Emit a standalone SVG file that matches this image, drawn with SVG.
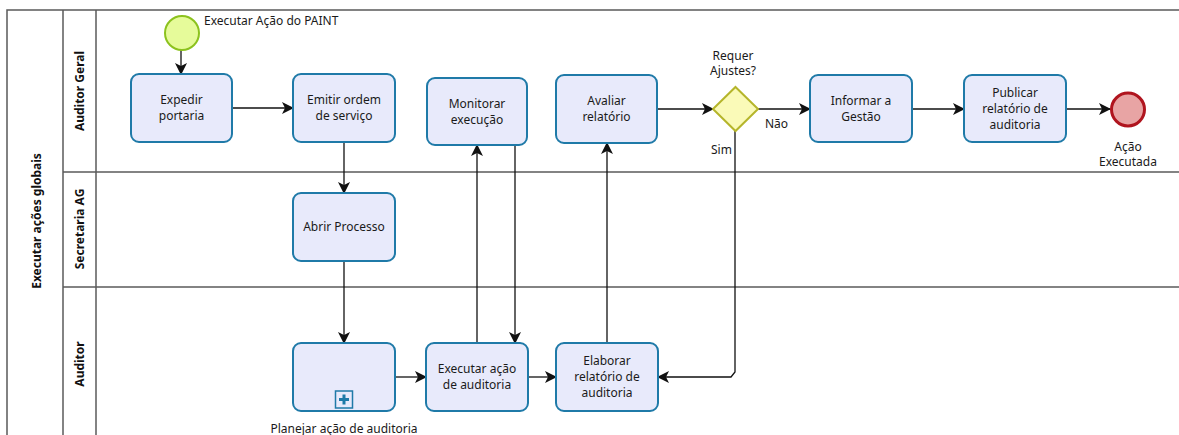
<svg xmlns="http://www.w3.org/2000/svg" width="1179" height="435" viewBox="0 0 1179 435">
<style>
.lane{fill:none;stroke:#5a5a5a;stroke-width:1.5}
.task{fill:#e8eafb;stroke:#1f7aa8;stroke-width:2}
.t{font-family:"Noto Sans","Open Sans",sans-serif;font-size:12px;fill:#1a1a1a;text-anchor:middle}
.l{font-family:"Noto Sans","Open Sans",sans-serif;font-size:12px;fill:#1a1a1a}
.lb{font-family:"Noto Sans","Open Sans",sans-serif;font-size:12px;font-weight:bold;fill:#111;text-anchor:middle}
.c{fill:none;stroke:#111;stroke-width:1.3}
</style>
<defs>
<marker id="a" viewBox="0 0 12 12" refX="11" refY="6" markerWidth="12" markerHeight="12" markerUnits="userSpaceOnUse" orient="auto">
<path d="M0,0 L12,6 L0,12 L3,6 Z" fill="#111"/>
</marker>
</defs>
<g id="pool">
<rect x="7" y="10" width="1190" height="440" class="lane"/>
<line x1="63" y1="10" x2="63" y2="435" class="lane"/>
<line x1="96" y1="10" x2="96" y2="435" class="lane"/>
<line x1="63" y1="172" x2="1179" y2="172" class="lane"/>
<line x1="63" y1="287" x2="1179" y2="287" class="lane"/>
<text class="lb" transform="translate(41,221) rotate(-90)">Executar ações globais</text>
<text class="lb" transform="translate(84,91) rotate(-90)">Auditor Geral</text>
<text class="lb" transform="translate(84,229) rotate(-90)">Secretaria AG</text>
<text class="lb" transform="translate(84,364) rotate(-90)">Auditor</text>
</g>
<g id="connectors">
<line x1="181" y1="50" x2="181" y2="74" class="c" marker-end="url(#a)"/>
<line x1="232" y1="108" x2="293" y2="108" class="c" marker-end="url(#a)"/>
<line x1="344" y1="142" x2="344" y2="193" class="c" marker-end="url(#a)"/>
<line x1="344" y1="261" x2="344" y2="343" class="c" marker-end="url(#a)"/>
<line x1="395" y1="377" x2="426" y2="377" class="c" marker-end="url(#a)"/>
<line x1="477" y1="343" x2="477" y2="145" class="c" marker-end="url(#a)"/>
<line x1="515" y1="145" x2="515" y2="343" class="c" marker-end="url(#a)"/>
<line x1="528" y1="377" x2="556" y2="377" class="c" marker-end="url(#a)"/>
<line x1="607" y1="343" x2="607" y2="143" class="c" marker-end="url(#a)"/>
<line x1="657" y1="109" x2="713" y2="109" class="c" marker-end="url(#a)"/>
<line x1="758" y1="109" x2="810" y2="109" class="c" marker-end="url(#a)"/>
<line x1="912" y1="109" x2="964" y2="109" class="c" marker-end="url(#a)"/>
<line x1="1066" y1="109" x2="1110" y2="109" class="c" marker-end="url(#a)"/>
<polyline points="735,131 735,372 731,377 658,377" class="c" marker-end="url(#a)"/>
<text class="l" x="765" y="128">Não</text>
<text class="l" x="711" y="154">Sim</text>
</g>
<g id="start">
<circle cx="182" cy="33" r="17" fill="#e6fb9a" stroke="#8cc21e" stroke-width="2"/>
<text class="l" x="204" y="25">Executar Ação do PAINT</text>
</g>
<g id="expedir">
<rect x="131" y="74" width="101" height="68" rx="8" class="task"/>
<text class="t" x="181.5" y="104">Expedir</text>
<text class="t" x="181.5" y="120">portaria</text>
</g>
<g id="emitir">
<rect x="293" y="74" width="102" height="68" rx="8" class="task"/>
<text class="t" x="344" y="104">Emitir ordem</text>
<text class="t" x="344" y="120">de serviço</text>
</g>
<g id="monitorar">
<rect x="427" y="78" width="100" height="67" rx="8" class="task"/>
<text class="t" x="477" y="108">Monitorar</text>
<text class="t" x="477" y="124">execução</text>
</g>
<g id="avaliar">
<rect x="556" y="75" width="101" height="68" rx="8" class="task"/>
<text class="t" x="606.5" y="105">Avaliar</text>
<text class="t" x="606.5" y="121">relatório</text>
</g>
<g id="gateway">
<polygon points="735.5,87 758,109 735.5,131 713,109" fill="#fafab8" stroke="#b5b52a" stroke-width="2"/>
<text class="t" x="733" y="60">Requer</text>
<text class="t" x="733" y="75">Ajustes?</text>
</g>
<g id="informar">
<rect x="810" y="75" width="102" height="67" rx="8" class="task"/>
<text class="t" x="861" y="105">Informar a</text>
<text class="t" x="861" y="121">Gestão</text>
</g>
<g id="publicar">
<rect x="964" y="75" width="102" height="67" rx="8" class="task"/>
<text class="t" x="1015" y="97">Publicar</text>
<text class="t" x="1015" y="113">relatório de</text>
<text class="t" x="1015" y="129">auditoria</text>
</g>
<g id="end">
<circle cx="1128" cy="109.5" r="16.5" fill="#e8a4a4" stroke="#b0141e" stroke-width="3"/>
<text class="t" x="1128" y="151">Ação</text>
<text class="t" x="1128" y="166">Executada</text>
</g>
<g id="abrir">
<rect x="293" y="193" width="102" height="68" rx="8" class="task"/>
<text class="t" x="344" y="231">Abrir Processo</text>
</g>
<g id="planejar">
<rect x="293" y="343" width="102" height="68" rx="8" class="task"/>
<rect x="335.5" y="391" width="17" height="17" fill="#e8eafb" stroke="#1f7aa8" stroke-width="1.5"/>
<path d="M344,394.5 V404.5 M339,399.5 H349" stroke="#1f7aa8" stroke-width="3"/>
<text class="t" x="344" y="433">Planejar ação de auditoria</text>
</g>
<g id="executar">
<rect x="426" y="343" width="102" height="68" rx="8" class="task"/>
<text class="t" x="477" y="373">Executar ação</text>
<text class="t" x="477" y="389">de auditoria</text>
</g>
<g id="elaborar">
<rect x="556" y="343" width="102" height="68" rx="8" class="task"/>
<text class="t" x="607" y="365">Elaborar</text>
<text class="t" x="607" y="381">relatório de</text>
<text class="t" x="607" y="397">auditoria</text>
</g>
</svg>
